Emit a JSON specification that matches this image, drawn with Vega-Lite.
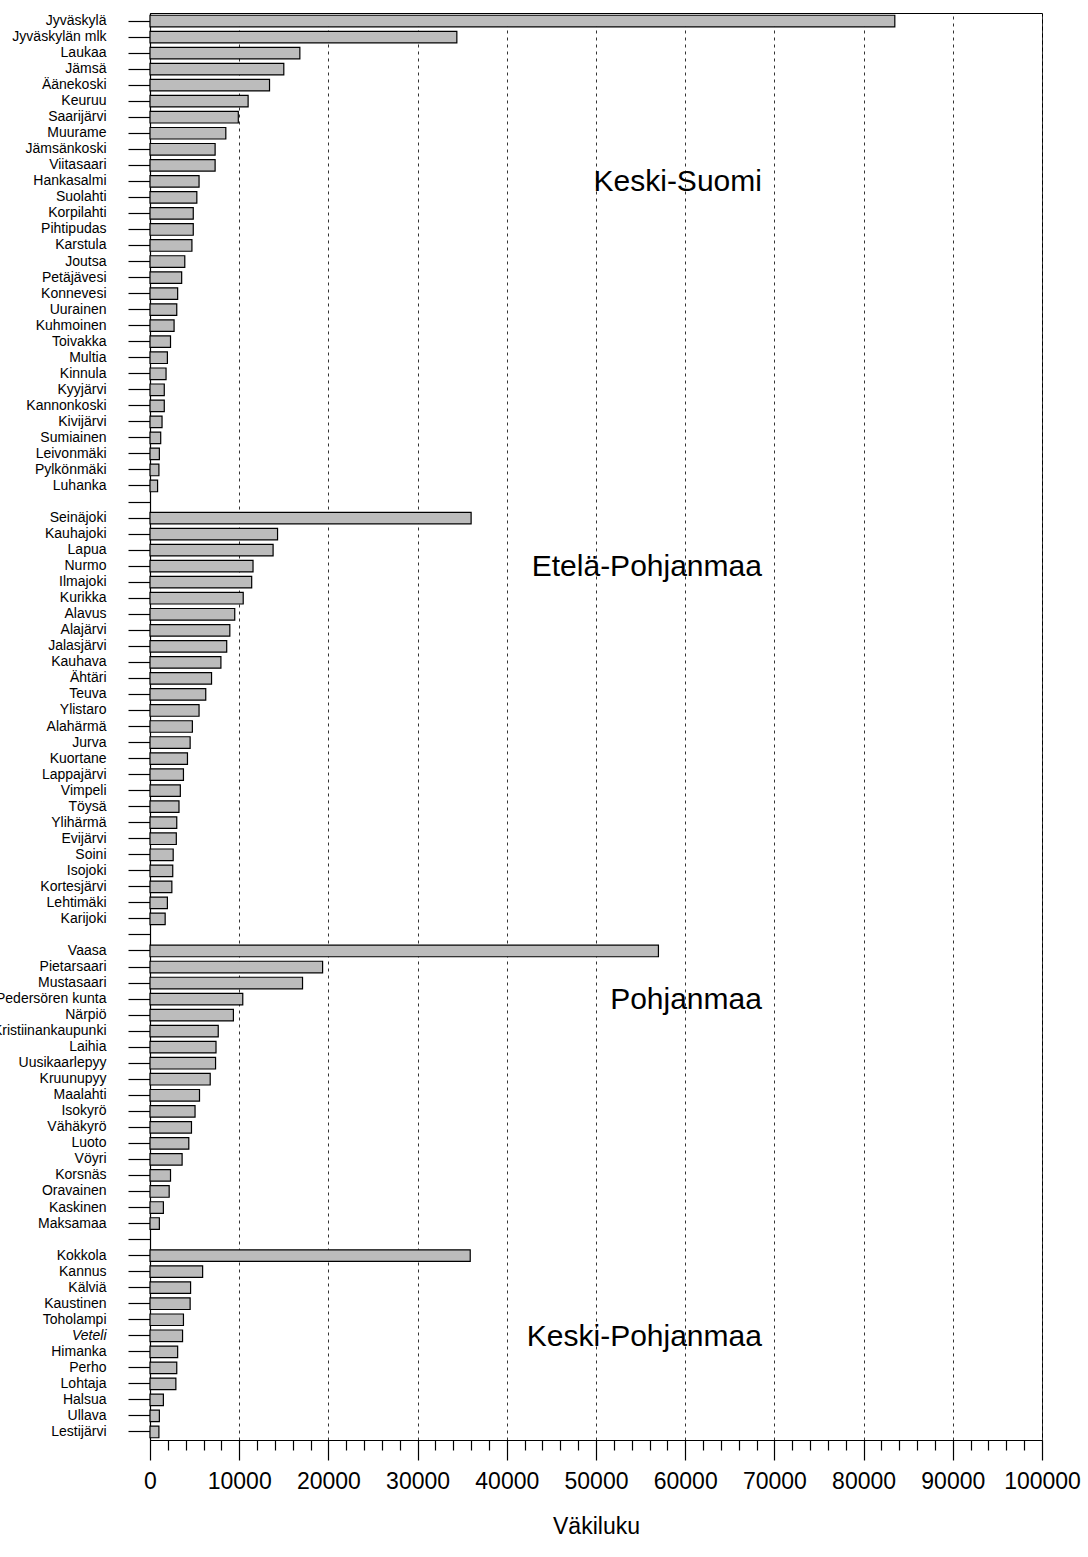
{
  "$schema": "https://vega.github.io/schema/vega-lite/v6.json",
  "width": 892,
  "height": 1427,
  "autosize": "none",
  "padding": {"left": 150, "top": 13, "right": 46, "bottom": 117},
  "background": "white",
  "config": {
    "view": {"stroke": "black", "strokeWidth": 1},
    "font": "Liberation Sans"
  },
  "datasets": {
    "kunnat": [
      {"kunta": "Jyväskylä", "maakunta": "Keski-Suomi", "vakiluku": 83500},
      {"kunta": "Jyväskylän mlk", "maakunta": "Keski-Suomi", "vakiluku": 34400},
      {"kunta": "Laukaa", "maakunta": "Keski-Suomi", "vakiluku": 16800},
      {"kunta": "Jämsä", "maakunta": "Keski-Suomi", "vakiluku": 15000},
      {"kunta": "Äänekoski", "maakunta": "Keski-Suomi", "vakiluku": 13400},
      {"kunta": "Keuruu", "maakunta": "Keski-Suomi", "vakiluku": 11000},
      {"kunta": "Saarijärvi", "maakunta": "Keski-Suomi", "vakiluku": 9900},
      {"kunta": "Muurame", "maakunta": "Keski-Suomi", "vakiluku": 8500},
      {"kunta": "Jämsänkoski", "maakunta": "Keski-Suomi", "vakiluku": 7300},
      {"kunta": "Viitasaari", "maakunta": "Keski-Suomi", "vakiluku": 7300},
      {"kunta": "Hankasalmi", "maakunta": "Keski-Suomi", "vakiluku": 5500},
      {"kunta": "Suolahti", "maakunta": "Keski-Suomi", "vakiluku": 5250},
      {"kunta": "Korpilahti", "maakunta": "Keski-Suomi", "vakiluku": 4850},
      {"kunta": "Pihtipudas", "maakunta": "Keski-Suomi", "vakiluku": 4850},
      {"kunta": "Karstula", "maakunta": "Keski-Suomi", "vakiluku": 4700},
      {"kunta": "Joutsa", "maakunta": "Keski-Suomi", "vakiluku": 3900},
      {"kunta": "Petäjävesi", "maakunta": "Keski-Suomi", "vakiluku": 3550},
      {"kunta": "Konnevesi", "maakunta": "Keski-Suomi", "vakiluku": 3100},
      {"kunta": "Uurainen", "maakunta": "Keski-Suomi", "vakiluku": 3000},
      {"kunta": "Kuhmoinen", "maakunta": "Keski-Suomi", "vakiluku": 2700},
      {"kunta": "Toivakka", "maakunta": "Keski-Suomi", "vakiluku": 2300},
      {"kunta": "Multia", "maakunta": "Keski-Suomi", "vakiluku": 1950},
      {"kunta": "Kinnula", "maakunta": "Keski-Suomi", "vakiluku": 1800},
      {"kunta": "Kyyjärvi", "maakunta": "Keski-Suomi", "vakiluku": 1600},
      {"kunta": "Kannonkoski", "maakunta": "Keski-Suomi", "vakiluku": 1600},
      {"kunta": "Kivijärvi", "maakunta": "Keski-Suomi", "vakiluku": 1350},
      {"kunta": "Sumiainen", "maakunta": "Keski-Suomi", "vakiluku": 1200},
      {"kunta": "Leivonmäki", "maakunta": "Keski-Suomi", "vakiluku": 1050},
      {"kunta": "Pylkönmäki", "maakunta": "Keski-Suomi", "vakiluku": 1000},
      {"kunta": "Luhanka", "maakunta": "Keski-Suomi", "vakiluku": 850},
      {"kunta": "Seinäjoki", "maakunta": "Etelä-Pohjanmaa", "vakiluku": 36000},
      {"kunta": "Kauhajoki", "maakunta": "Etelä-Pohjanmaa", "vakiluku": 14300},
      {"kunta": "Lapua", "maakunta": "Etelä-Pohjanmaa", "vakiluku": 13800},
      {"kunta": "Nurmo", "maakunta": "Etelä-Pohjanmaa", "vakiluku": 11550},
      {"kunta": "Ilmajoki", "maakunta": "Etelä-Pohjanmaa", "vakiluku": 11400},
      {"kunta": "Kurikka", "maakunta": "Etelä-Pohjanmaa", "vakiluku": 10450},
      {"kunta": "Alavus", "maakunta": "Etelä-Pohjanmaa", "vakiluku": 9500},
      {"kunta": "Alajärvi", "maakunta": "Etelä-Pohjanmaa", "vakiluku": 8950},
      {"kunta": "Jalasjärvi", "maakunta": "Etelä-Pohjanmaa", "vakiluku": 8600},
      {"kunta": "Kauhava", "maakunta": "Etelä-Pohjanmaa", "vakiluku": 7950},
      {"kunta": "Ähtäri", "maakunta": "Etelä-Pohjanmaa", "vakiluku": 6900},
      {"kunta": "Teuva", "maakunta": "Etelä-Pohjanmaa", "vakiluku": 6250},
      {"kunta": "Ylistaro", "maakunta": "Etelä-Pohjanmaa", "vakiluku": 5500},
      {"kunta": "Alahärmä", "maakunta": "Etelä-Pohjanmaa", "vakiluku": 4750},
      {"kunta": "Jurva", "maakunta": "Etelä-Pohjanmaa", "vakiluku": 4500},
      {"kunta": "Kuortane", "maakunta": "Etelä-Pohjanmaa", "vakiluku": 4200},
      {"kunta": "Lappajärvi", "maakunta": "Etelä-Pohjanmaa", "vakiluku": 3750},
      {"kunta": "Vimpeli", "maakunta": "Etelä-Pohjanmaa", "vakiluku": 3400},
      {"kunta": "Töysä", "maakunta": "Etelä-Pohjanmaa", "vakiluku": 3250},
      {"kunta": "Ylihärmä", "maakunta": "Etelä-Pohjanmaa", "vakiluku": 3000},
      {"kunta": "Evijärvi", "maakunta": "Etelä-Pohjanmaa", "vakiluku": 2950},
      {"kunta": "Soini", "maakunta": "Etelä-Pohjanmaa", "vakiluku": 2600},
      {"kunta": "Isojoki", "maakunta": "Etelä-Pohjanmaa", "vakiluku": 2550},
      {"kunta": "Kortesjärvi", "maakunta": "Etelä-Pohjanmaa", "vakiluku": 2450},
      {"kunta": "Lehtimäki", "maakunta": "Etelä-Pohjanmaa", "vakiluku": 1950},
      {"kunta": "Karijoki", "maakunta": "Etelä-Pohjanmaa", "vakiluku": 1700},
      {"kunta": "Vaasa", "maakunta": "Pohjanmaa", "vakiluku": 57000},
      {"kunta": "Pietarsaari", "maakunta": "Pohjanmaa", "vakiluku": 19350},
      {"kunta": "Mustasaari", "maakunta": "Pohjanmaa", "vakiluku": 17100},
      {"kunta": "Pedersören kunta", "maakunta": "Pohjanmaa", "vakiluku": 10400},
      {"kunta": "Närpiö", "maakunta": "Pohjanmaa", "vakiluku": 9350},
      {"kunta": "Kristiinankaupunki", "maakunta": "Pohjanmaa", "vakiluku": 7650},
      {"kunta": "Laihia", "maakunta": "Pohjanmaa", "vakiluku": 7400},
      {"kunta": "Uusikaarlepyy", "maakunta": "Pohjanmaa", "vakiluku": 7350},
      {"kunta": "Kruunupyy", "maakunta": "Pohjanmaa", "vakiluku": 6750},
      {"kunta": "Maalahti", "maakunta": "Pohjanmaa", "vakiluku": 5550},
      {"kunta": "Isokyrö", "maakunta": "Pohjanmaa", "vakiluku": 5050},
      {"kunta": "Vähäkyrö", "maakunta": "Pohjanmaa", "vakiluku": 4650},
      {"kunta": "Luoto", "maakunta": "Pohjanmaa", "vakiluku": 4350},
      {"kunta": "Vöyri", "maakunta": "Pohjanmaa", "vakiluku": 3600},
      {"kunta": "Korsnäs", "maakunta": "Pohjanmaa", "vakiluku": 2300},
      {"kunta": "Oravainen", "maakunta": "Pohjanmaa", "vakiluku": 2150},
      {"kunta": "Kaskinen", "maakunta": "Pohjanmaa", "vakiluku": 1500},
      {"kunta": "Maksamaa", "maakunta": "Pohjanmaa", "vakiluku": 1050},
      {"kunta": "Kokkola", "maakunta": "Keski-Pohjanmaa", "vakiluku": 35900},
      {"kunta": "Kannus", "maakunta": "Keski-Pohjanmaa", "vakiluku": 5900},
      {"kunta": "Kälviä", "maakunta": "Keski-Pohjanmaa", "vakiluku": 4550},
      {"kunta": "Kaustinen", "maakunta": "Keski-Pohjanmaa", "vakiluku": 4500},
      {"kunta": "Toholampi", "maakunta": "Keski-Pohjanmaa", "vakiluku": 3750},
      {"kunta": "Veteli", "maakunta": "Keski-Pohjanmaa", "vakiluku": 3650},
      {"kunta": "Himanka", "maakunta": "Keski-Pohjanmaa", "vakiluku": 3100},
      {"kunta": "Perho", "maakunta": "Keski-Pohjanmaa", "vakiluku": 3000},
      {"kunta": "Lohtaja", "maakunta": "Keski-Pohjanmaa", "vakiluku": 2900},
      {"kunta": "Halsua", "maakunta": "Keski-Pohjanmaa", "vakiluku": 1500},
      {"kunta": "Ullava", "maakunta": "Keski-Pohjanmaa", "vakiluku": 1050},
      {"kunta": "Lestijärvi", "maakunta": "Keski-Pohjanmaa", "vakiluku": 1000}
    ],
    "maakunnat": [
      {"maakunta": "Keski-Suomi", "rivi": "Hankasalmi"},
      {"maakunta": "Etelä-Pohjanmaa", "rivi": "Nurmo"},
      {"maakunta": "Pohjanmaa", "rivi": "Pedersören kunta"},
      {"maakunta": "Keski-Pohjanmaa", "rivi": "Veteli"}
    ]
  },
  "layer": [
    {
      "data": {"name": "kunnat"},
      "mark": {"type": "bar", "fill": "#bcbcbc", "stroke": "black", "strokeWidth": 1.2},
      "encoding": {
        "y": {
          "field": "kunta",
          "type": "nominal",
          "scale": {
            "paddingInner": 0.28,
            "paddingOuter": 0.14,
            "domain": ["Jyväskylä","Jyväskylän mlk","Laukaa","Jämsä","Äänekoski","Keuruu","Saarijärvi","Muurame","Jämsänkoski","Viitasaari","Hankasalmi","Suolahti","Korpilahti","Pihtipudas","Karstula","Joutsa","Petäjävesi","Konnevesi","Uurainen","Kuhmoinen","Toivakka","Multia","Kinnula","Kyyjärvi","Kannonkoski","Kivijärvi","Sumiainen","Leivonmäki","Pylkönmäki","Luhanka"," ","Seinäjoki","Kauhajoki","Lapua","Nurmo","Ilmajoki","Kurikka","Alavus","Alajärvi","Jalasjärvi","Kauhava","Ähtäri","Teuva","Ylistaro","Alahärmä","Jurva","Kuortane","Lappajärvi","Vimpeli","Töysä","Ylihärmä","Evijärvi","Soini","Isojoki","Kortesjärvi","Lehtimäki","Karijoki","  ","Vaasa","Pietarsaari","Mustasaari","Pedersören kunta","Närpiö","Kristiinankaupunki","Laihia","Uusikaarlepyy","Kruunupyy","Maalahti","Isokyrö","Vähäkyrö","Luoto","Vöyri","Korsnäs","Oravainen","Kaskinen","Maksamaa","   ","Kokkola","Kannus","Kälviä","Kaustinen","Toholampi","Veteli","Himanka","Perho","Lohtaja","Halsua","Ullava","Lestijärvi"]
          },
          "axis": {
            "title": null,
            "domainColor": "black",
            "domainWidth": 1.2,
            "tickColor": "black",
            "tickSize": 22,
            "tickWidth": 1.2,
            "labelPadding": 22,
            "labelFontSize": 14,
            "labelFont": "Liberation Sans",
            "labelColor": "black",
            "labelFontStyle": {"condition": {"test": "datum.value === 'Veteli'", "value": "italic"}, "value": "normal"},
            "labelOverlap": false,
            "labelLimit": 0
          }
        },
        "x": {
          "field": "vakiluku",
          "type": "quantitative",
          "scale": {"domain": [0, 100000], "nice": false, "zero": true},
          "axis": {
            "orient": "bottom",
            "values": [0, 10000, 20000, 30000, 40000, 50000, 60000, 70000, 80000, 90000, 100000],
            "format": "d",
            "title": "Väkiluku",
            "titleFont": "Liberation Sans",
            "titleFontSize": 23,
            "titleFontWeight": "normal",
            "titleColor": "black",
            "titlePadding": 22,
            "labelFont": "Liberation Sans",
            "labelFontSize": 23,
            "labelColor": "black",
            "labelPadding": 10,
            "labelFlush": false,
            "labelOverlap": false,
            "tickSize": 20,
            "tickColor": "black",
            "tickWidth": 1.2,
            "domainColor": "black",
            "domainWidth": 1.2,
            "grid": true,
            "gridColor": "#333333",
            "gridDash": [3, 4],
            "gridWidth": 1
          }
        }
      }
    },
    {
      "data": {"name": "maakunnat"},
      "mark": {"type": "text", "align": "right", "baseline": "middle", "fontSize": 30, "font": "Liberation Sans", "color": "black", "dy": 1},
      "encoding": {
        "y": {"field": "rivi", "type": "nominal"},
        "x": {
          "datum": 68600,
          "type": "quantitative",
          "axis": {
            "orient": "bottom",
            "values": [2000, 4000, 6000, 8000, 12000, 14000, 16000, 18000, 22000, 24000, 26000, 28000, 32000, 34000, 36000, 38000, 42000, 44000, 46000, 48000, 52000, 54000, 56000, 58000, 62000, 64000, 66000, 68000, 72000, 74000, 76000, 78000, 82000, 84000, 86000, 88000, 92000, 94000, 96000, 98000],
            "labels": false,
            "title": null,
            "domain": false,
            "grid": false,
            "tickSize": 10,
            "tickColor": "black",
            "tickWidth": 1.2
          }
        },
        "text": {"field": "maakunta"}
      }
    }
  ],
  "resolve": {"axis": {"x": "independent"}}
}
